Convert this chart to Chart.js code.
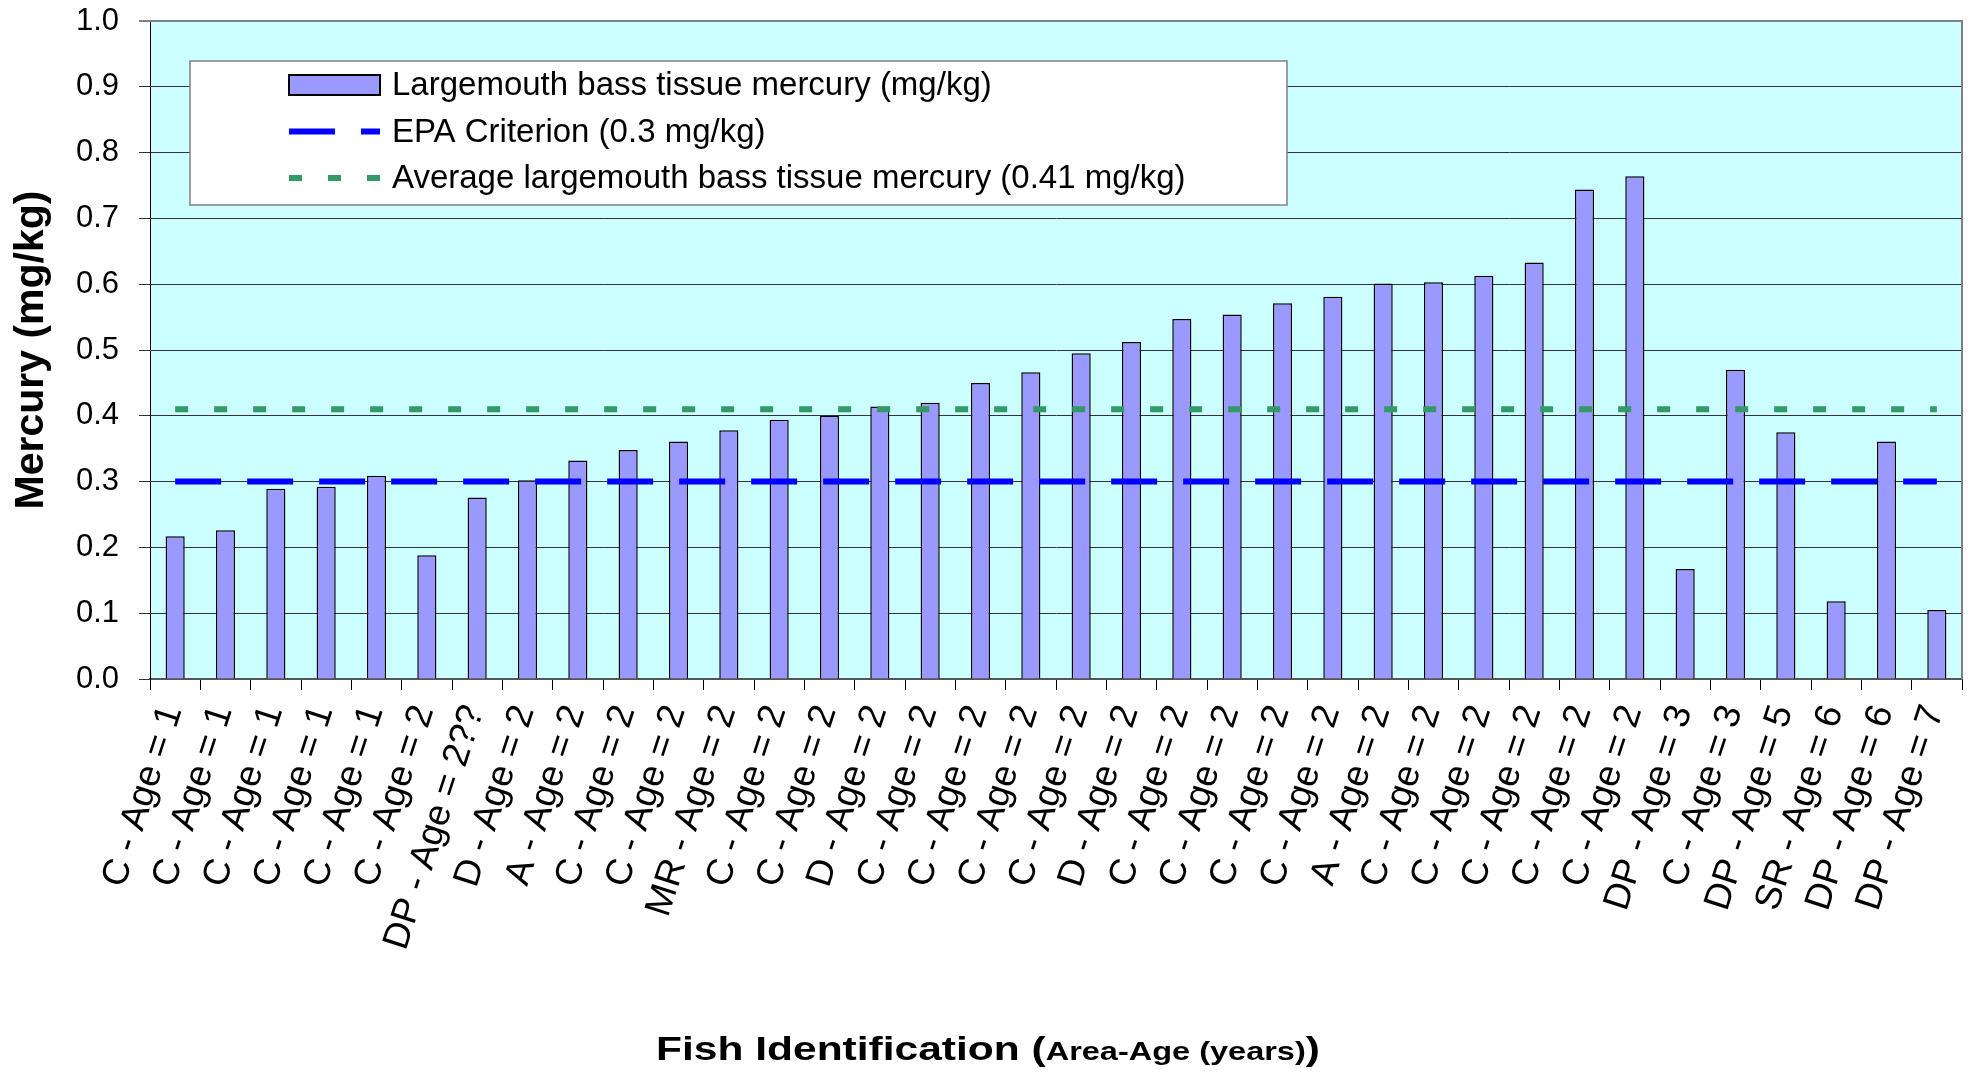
<!DOCTYPE html>
<html>
<head>
<meta charset="utf-8">
<title>Largemouth bass tissue mercury</title>
<script src="https://cdn.jsdelivr.net/npm/chart.js@4.4.1/dist/chart.umd.min.js"></script>
<style>
  html, body { margin:0; padding:0; background:#fff; }
  #wrap { width:1972px; height:1074px; }
</style>
</head>
<body>
<div id="wrap"><canvas id="chart" width="1972" height="1074"></canvas></div>
<script>
// fish id (area - age) along the x axis
const fishIds = [
  'C - Age = 1','C - Age = 1','C - Age = 1','C - Age = 1','C - Age = 1',
  'C - Age = 2','DP - Age = 2??','D - Age = 2','A - Age = 2','C - Age = 2',
  'C - Age = 2','MR - Age = 2','C - Age = 2','C - Age = 2','D - Age = 2',
  'C - Age = 2','C - Age = 2','C - Age = 2','C - Age = 2','D - Age = 2',
  'C - Age = 2','C - Age = 2','C - Age = 2','C - Age = 2','A - Age = 2',
  'C - Age = 2','C - Age = 2','C - Age = 2','C - Age = 2','C - Age = 2',
  'DP - Age = 3','C - Age = 3','DP - Age = 5','SR - Age = 6','DP - Age = 6',
  'DP - Age = 7'
];

// tissue mercury, mg/kg
const mercury = [
  0.217, 0.226, 0.289, 0.292, 0.309, 0.188, 0.276, 0.302, 0.332, 0.348,
  0.361, 0.378, 0.394, 0.400, 0.414, 0.420, 0.450, 0.466, 0.495, 0.512,
  0.547, 0.554, 0.571, 0.581, 0.601, 0.603, 0.613, 0.633, 0.744, 0.764,
  0.167, 0.470, 0.375, 0.118, 0.361, 0.105
];

const epaCriterion = 0.3;
const avgMercury = 0.41;

const yTicks = [0, 0.1, 0.2, 0.3, 0.4, 0.5, 0.6, 0.7, 0.8, 0.9, 1.0];

const FONT = '"Liberation Sans", Arial, sans-serif';

// plot background + outer frame
const plotBg = {
  id:'plotBg',
  beforeDraw(chart){
    const {ctx, chartArea:a} = chart;
    ctx.save();
    ctx.fillStyle = '#fff';
    ctx.fillRect(0,0,chart.width,chart.height);
    ctx.fillStyle = '#CCFFFF';
    ctx.fillRect(a.left, a.top, a.right-a.left, a.bottom-a.top);
    ctx.restore();
  },
  afterDraw(chart){
    const {ctx, chartArea:a} = chart;
    ctx.save();
    ctx.strokeStyle = '#808080';
    ctx.lineWidth = 2;
    ctx.beginPath();
    ctx.moveTo(a.left, a.top);
    ctx.lineTo(a.right, a.top);
    ctx.lineTo(a.right, a.bottom);
    ctx.stroke();
    ctx.restore();
  }
};

// boxed legend inside the plot
const boxLegend = {
  id:'boxLegend',
  afterDraw(chart){
    const {ctx, chartArea:a} = chart;
    const x0 = a.left + 40, y0 = a.top + 40;
    const w = 1097, h = 144;
    ctx.save();
    ctx.fillStyle = '#fff';
    ctx.fillRect(x0, y0, w, h);
    ctx.strokeStyle = '#808080';
    ctx.lineWidth = 1.5;
    ctx.strokeRect(x0, y0, w, h);

    const sx = x0 + 99, sw = 91;
    ctx.font = '33px ' + FONT;
    ctx.textBaseline = 'alphabetic';
    chart.data.datasets.forEach((ds, i)=>{
      const base = y0 + 34 + i*46.5;
      const cy = base - 10;
      if(ds.type === 'bar'){
        ctx.fillStyle = ds.backgroundColor;
        ctx.fillRect(sx, cy-10, sw, 20);
        ctx.strokeStyle = '#000';
        ctx.lineWidth = 2;
        ctx.setLineDash([]);
        ctx.strokeRect(sx, cy-10, sw, 20);
      } else {
        ctx.strokeStyle = ds.borderColor;
        ctx.lineWidth = ds.borderWidth;
        ctx.setLineDash(ds.borderDash);
        ctx.lineCap = 'butt';
        ctx.beginPath();
        ctx.moveTo(sx, cy);
        ctx.lineTo(sx+sw, cy);
        ctx.stroke();
        ctx.setLineDash([]);
      }
      ctx.fillStyle = '#000';
      ctx.fillText(ds.label, sx + sw + 12, base);
    });
    ctx.restore();
  }
};

// x title with the smaller "Area-Age (years)" part
const xTitle = {
  id:'xTitle',
  afterDraw(chart){
    const ctx = chart.ctx;
    const stretch = 1.25;
    const parts = [
      {t:'Fish Identification (', f:'bold 34px ' + FONT},
      {t:'Area-Age (years)', f:'bold 26px ' + FONT},
      {t:')', f:'bold 34px ' + FONT}
    ];
    ctx.save();
    let total = 0;
    parts.forEach(p=>{ ctx.font = p.f; p.w = ctx.measureText(p.t).width; total += p.w; });
    const cx = 988, base = 1060;
    ctx.translate(cx - total*stretch/2, base);
    ctx.scale(stretch, 1);
    ctx.fillStyle = '#000';
    ctx.textBaseline = 'alphabetic';
    let x = 0;
    parts.forEach(p=>{ ctx.font = p.f; ctx.fillText(p.t, x, 0); x += p.w; });
    ctx.restore();
  }
};

const chart = new Chart(document.getElementById('chart'), {
  data:{
    labels: fishIds,
    datasets:[
      {
        type:'bar',
        label:'Largemouth bass tissue mercury (mg/kg)',
        data: mercury,
        backgroundColor:'#9999FF',
        borderColor:'#000',
        borderWidth:1.5,
        barPercentage:0.38,
        categoryPercentage:1,
        order:3
      },
      {
        type:'line',
        label:'EPA Criterion (0.3 mg/kg)',
        data: fishIds.map(()=>epaCriterion),
        borderColor:'#0000FF',
        borderWidth:6,
        borderDash:[46,26],
        borderCapStyle:'butt',
        pointRadius:0,
        fill:false,
        order:2
      },
      {
        type:'line',
        label:'Average largemouth bass tissue mercury (0.41 mg/kg)',
        data: fishIds.map(()=>avgMercury),
        borderColor:'#339966',
        borderWidth:6,
        borderDash:[13,26],
        borderCapStyle:'butt',
        pointRadius:0,
        fill:false,
        order:1
      }
    ]
  },
  options:{
    responsive:false,
    animation:false,
    devicePixelRatio:1,
    layout:{ padding:{ top:21, right:10, left:0, bottom:0 } },
    plugins:{ legend:{display:false}, tooltip:{enabled:false} },
    scales:{
      x:{
        offset:true,
        grid:{ offset:true, drawOnChartArea:false, drawTicks:true, tickLength:11, color:'#000', lineWidth:1 },
        border:{ color:'#555', width:2 },
        ticks:{
          autoSkip:false,
          minRotation:72,
          maxRotation:72,
          padding:11,
          labelOffset:-3,
          color:'#000',
          font:{ family:FONT, size:37, lineHeight:1 }
        },
        afterFit(s){ s.height = 395; s.paddingLeft = 0; s.paddingRight = 0; }
      },
      y:{
        min:0,
        max:1,
        afterBuildTicks(s){ s.ticks = yTicks.map(v=>({value:v})); },
        grid:{
          color:(c)=> c.tick && c.tick.value === 1 ? '#808080' : '#333',
          lineWidth:(c)=> c.tick && c.tick.value === 1 ? 2 : 1,
          tickLength:11
        },
        border:{ color:'#000', width:1 },
        ticks:{
          padding:20,
          color:'#000',
          font:{ family:FONT, size:31 },
          callback:(v)=> Number(v).toFixed(1)
        },
        title:{
          display:true,
          text:'Mercury (mg/kg)',
          color:'#000',
          font:{ family:FONT, size:41, weight:'bold' },
          padding:{ top:7, bottom:0 }
        },
        afterFit(s){ s.width = 150; s.paddingTop = 0; s.paddingBottom = 0; }
      }
    }
  },
  plugins:[plotBg, boxLegend, xTitle]
});
</script>
</body>
</html>
